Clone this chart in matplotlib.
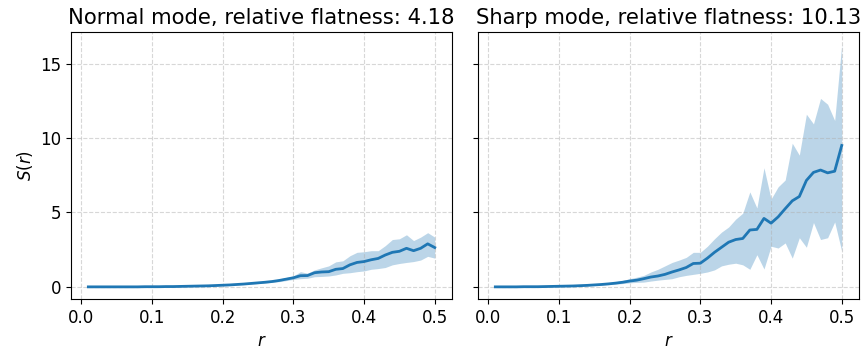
import matplotlib
matplotlib.use("Agg")
import matplotlib.pyplot as plt

# radii at which S(r) was evaluated
r = [0.01, 0.02, 0.03, 0.04, 0.05, 0.06, 0.07, 0.08, 0.09, 0.10,
     0.11, 0.12, 0.13, 0.14, 0.15, 0.16, 0.17, 0.18, 0.19, 0.20,
     0.21, 0.22, 0.23, 0.24, 0.25, 0.26, 0.27, 0.28, 0.29, 0.30,
     0.31, 0.32, 0.33, 0.34, 0.35, 0.36, 0.37, 0.38, 0.39, 0.40,
     0.41, 0.42, 0.43, 0.44, 0.45, 0.46, 0.47, 0.48, 0.49, 0.50]

# normal mode: mean and band edges
normal_mean = [0.0, 0.0, 0.0, 0.0, 0.0, 0.0, 0.0, 0.0, 0.01, 0.01,
               0.01, 0.02, 0.02, 0.03, 0.04, 0.05, 0.06, 0.07, 0.09, 0.11,
               0.13, 0.16, 0.19, 0.23, 0.27, 0.31, 0.36, 0.43, 0.52, 0.61,
               0.75, 0.76, 0.95, 1.00, 1.02, 1.18, 1.23, 1.48, 1.64, 1.70,
               1.82, 1.91, 2.14, 2.32, 2.39, 2.59, 2.43, 2.59, 2.89, 2.64]
normal_upper = [0.0, 0.0, 0.0, 0.0, 0.0, 0.0, 0.01, 0.01, 0.01, 0.02,
                0.02, 0.03, 0.03, 0.04, 0.05, 0.06, 0.07, 0.09, 0.11, 0.13,
                0.15, 0.18, 0.22, 0.27, 0.32, 0.37, 0.43, 0.53, 0.63, 0.73,
                1.02, 0.92, 1.14, 1.28, 1.41, 1.68, 1.75, 2.09, 2.32, 2.36,
                2.43, 2.43, 2.77, 3.18, 3.23, 3.50, 3.11, 3.34, 3.64, 3.34]
normal_lower = [0.0, 0.0, 0.0, 0.0, 0.0, 0.0, 0.0, 0.0, 0.0, 0.0,
                0.01, 0.01, 0.01, 0.02, 0.03, 0.04, 0.05, 0.06, 0.07, 0.09,
                0.11, 0.14, 0.16, 0.19, 0.22, 0.26, 0.30, 0.35, 0.42, 0.50,
                0.55, 0.58, 0.68, 0.70, 0.73, 0.80, 0.91, 0.95, 1.02, 1.07,
                1.18, 1.23, 1.30, 1.48, 1.57, 1.64, 1.70, 1.80, 2.05, 1.93]

# sharp mode: mean and band edges
sharp_mean = [0.0, 0.0, 0.0, 0.0, 0.01, 0.01, 0.01, 0.02, 0.03, 0.04,
              0.05, 0.06, 0.08, 0.10, 0.13, 0.16, 0.20, 0.25, 0.31, 0.39,
              0.45, 0.55, 0.66, 0.73, 0.84, 1.00, 1.14, 1.30, 1.57, 1.59,
              1.93, 2.32, 2.66, 3.00, 3.18, 3.25, 3.82, 3.86, 4.60, 4.28,
              4.70, 5.25, 5.78, 6.07, 7.15, 7.69, 7.85, 7.66, 7.77, 9.50]
sharp_upper = [0.0, 0.0, 0.01, 0.01, 0.01, 0.02, 0.02, 0.03, 0.04, 0.05,
               0.06, 0.08, 0.10, 0.13, 0.17, 0.21, 0.27, 0.34, 0.43, 0.55,
               0.65, 0.77, 1.00, 1.18, 1.41, 1.64, 1.80, 1.98, 2.32, 2.32,
               2.73, 3.23, 3.68, 4.02, 4.55, 4.95, 6.38, 5.30, 8.00, 5.90,
               6.72, 7.18, 9.65, 8.85, 11.60, 10.95, 12.66, 12.27, 11.18, 16.30]
sharp_lower = [0.0, 0.0, 0.0, 0.0, 0.0, 0.0, 0.01, 0.01, 0.02, 0.03,
               0.04, 0.05, 0.06, 0.08, 0.10, 0.12, 0.15, 0.18, 0.22, 0.27,
               0.30, 0.32, 0.39, 0.45, 0.50, 0.55, 0.68, 0.77, 0.84, 0.91,
               1.00, 1.14, 1.41, 1.52, 1.59, 1.48, 1.18, 2.16, 1.20, 2.73,
               2.61, 2.95, 1.93, 3.30, 2.66, 4.32, 3.18, 3.30, 4.36, 2.39]

titles = ["Normal mode, relative flatness: 4.18",
          "Sharp mode, relative flatness: 10.13"]

plt.rcParams["font.size"] = 12

fig, axes = plt.subplots(1, 2, figsize=(8.66, 3.53), dpi=100, sharey=True)
fig.subplots_adjust(left=0.082, right=0.992, top=0.909, bottom=0.153, wspace=0.068)

series = [(normal_mean, normal_lower, normal_upper),
          (sharp_mean, sharp_lower, sharp_upper)]

for ax, (mean, lower, upper), title in zip(axes, series, titles):
    ax.fill_between(r, lower, upper, color="C0", alpha=0.3, linewidth=0)
    ax.plot(r, mean, color="C0", linewidth=2)
    ax.set_title(title, fontsize=15.2)
    ax.set_xlabel("$r$")
    ax.set_xticks([0.0, 0.1, 0.2, 0.3, 0.4, 0.5])
    ax.set_yticks([0, 5, 10, 15])
    ax.grid(True, linestyle="--", alpha=0.5)

axes[0].set_ylabel("$S(r)$")

fig.savefig("out.png", dpi=100)
